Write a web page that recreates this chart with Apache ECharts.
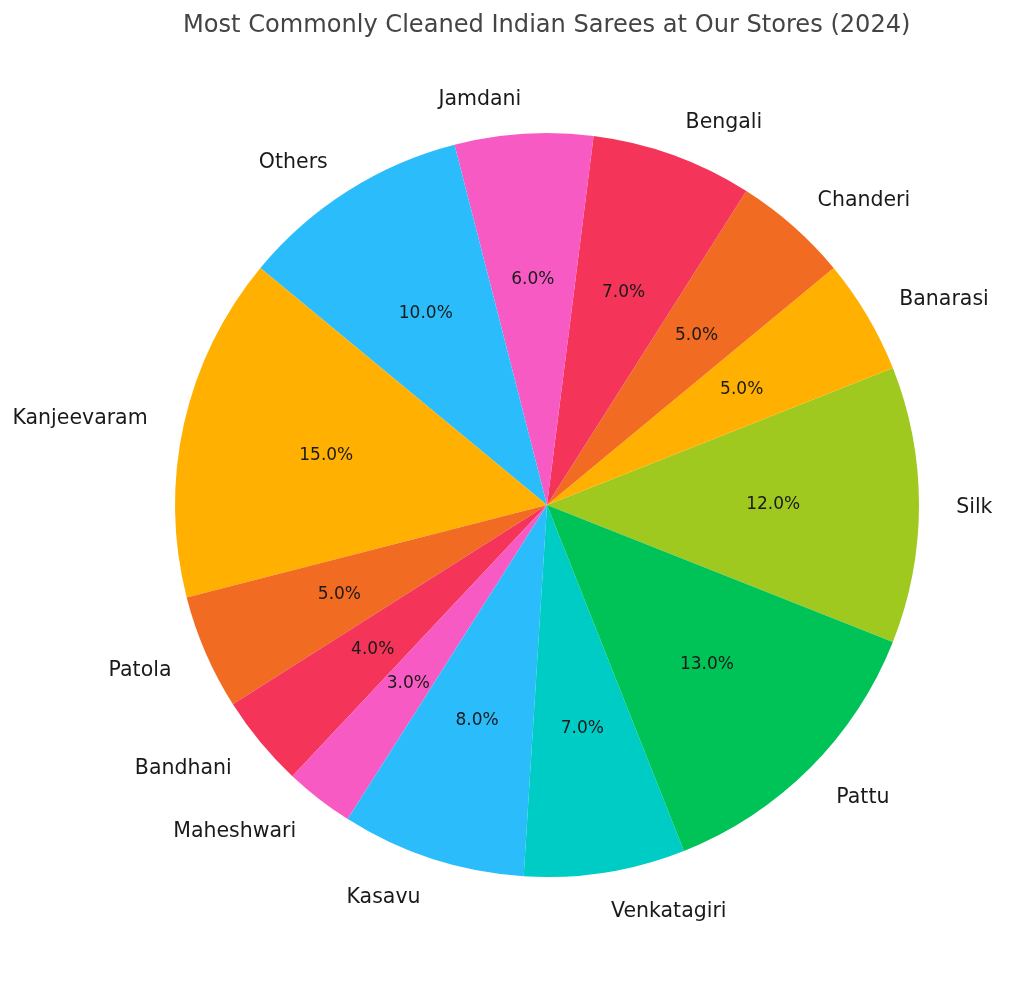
<!DOCTYPE html>
<html>
<head>
<meta charset="utf-8">
<script src="https://cdn.jsdelivr.net/npm/echarts@6/dist/echarts.min.js"></script>
<style>html,body{margin:0;padding:0;background:#fff}#main{width:1024px;height:982px}</style>
</head>
<body>
<div id="main"></div>
<script>
// Data (counterclockwise order starting from Silk)
var categories = ['Silk','Banarasi','Chanderi','Bengali','Jamdani','Others','Kanjeevaram','Patola','Bandhani','Maheshwari','Kasavu','Venkatagiri','Pattu'];
var shares = [12, 5, 5, 7, 6, 10, 15, 5, 4, 3, 8, 7, 13];
var colors = ['#A0C91F','#FFB000','#F26B22','#F43459','#F75AC3','#2BBDFB','#FFB000','#F26B22','#F43459','#F75AC3','#2BBDFB','#00CCC6','#00C358'];
var titleText = 'Most Commonly Cleaned Indian Sarees at Our Stores (2024)';

var R = 372, CX = 547, CY = 505;
var data = categories.map(function(c,i){ return {name:c, value:shares[i], itemStyle:{color:colors[i]}}; });
var dataT = categories.map(function(c,i){ return {name:c, value:shares[i]}; });
var font = 'DejaVu Sans';

var chart = echarts.init(document.getElementById('main'), null, {renderer:'canvas'});
chart.setOption({
  animation:false,
  backgroundColor:'#ffffff',
  title:{text:titleText, left:178, top:9, textStyle:{fontFamily:font, fontSize:24.1, fontWeight:'normal', color:'#444444'}},
  series:[
    {
      type:'pie', center:[CX,CY], radius:[0,R], startAngle:338.4, clockwise:false,
      avoidLabelOverlap:false, silent:true, emphasis:{disabled:true},
      data:data,
      itemStyle:{borderWidth:0},
      label:{show:true, position:'outside', alignTo:'none', distanceToLabelLine:0, offset:[0,3],
             fontFamily:font, fontSize:20.5, color:'#1a1a1a', formatter:'{b}'},
      labelLine:{show:false, length:R*0.1, length2:0}
    },
    {
      type:'pie', center:[CX,CY], radius:[R*0.2,R], startAngle:338.4, clockwise:false,
      avoidLabelOverlap:false, silent:true, emphasis:{disabled:true},
      data:dataT,
      itemStyle:{color:'rgba(0,0,0,0)', borderWidth:0},
      label:{show:true, position:'inside', fontFamily:font, fontSize:17, color:'#1a1a1a',
             formatter:function(p){ return p.value.toFixed(1)+'%'; }},
      labelLine:{show:false}
    }
  ]
});
</script>
</body>
</html>
